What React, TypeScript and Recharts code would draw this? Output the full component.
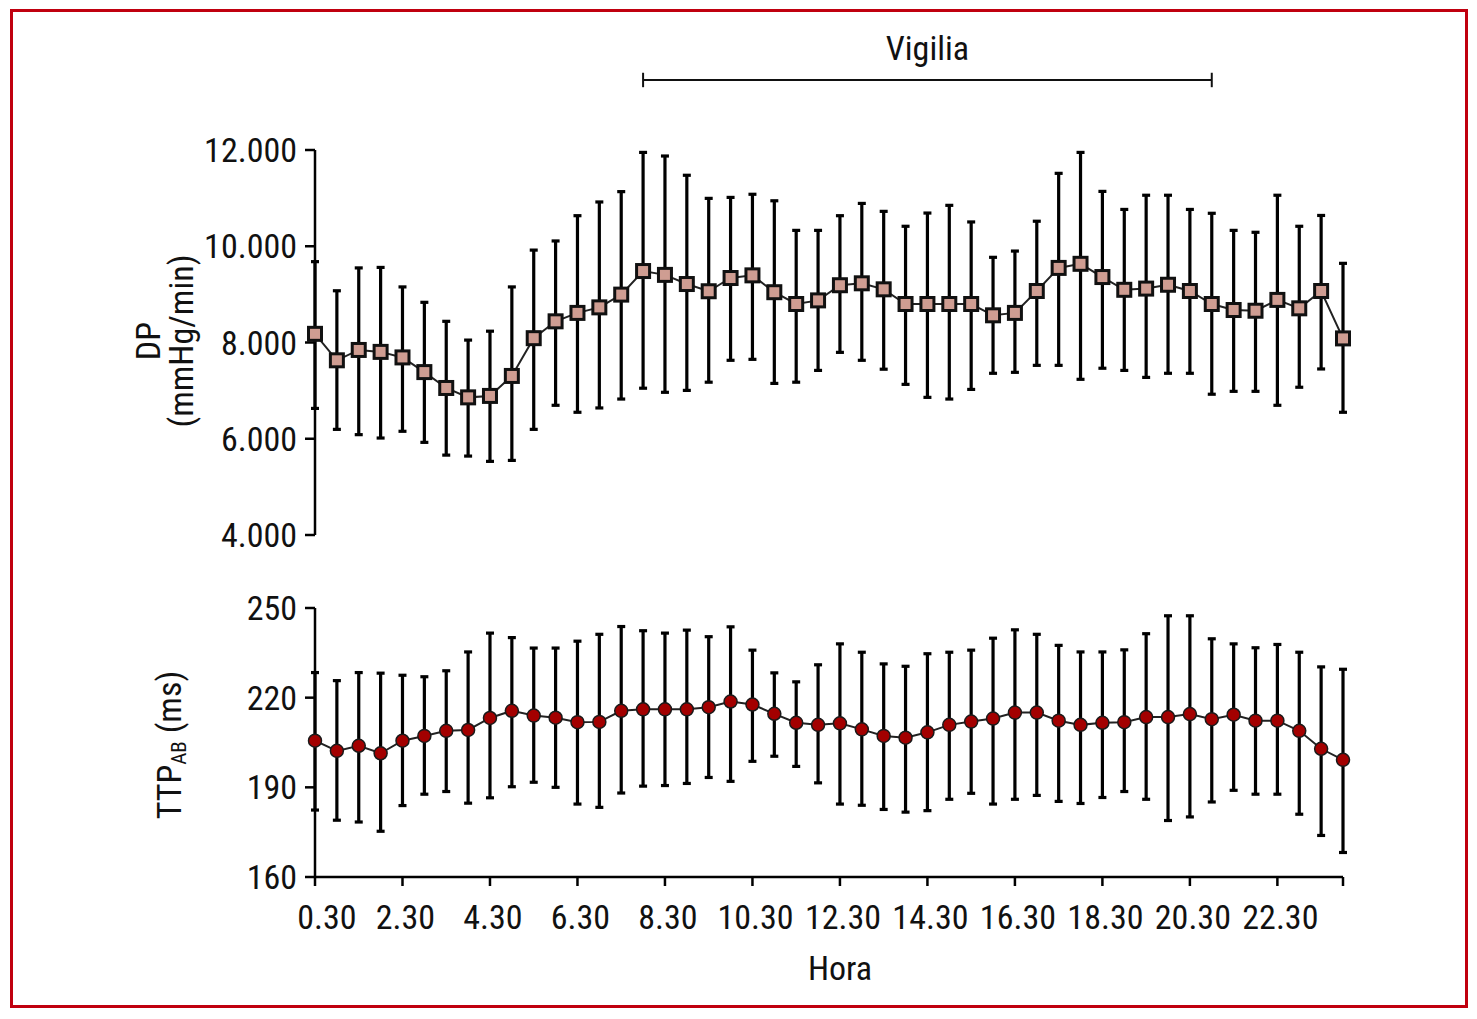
import React from 'react';
import { ComposedChart, Line, XAxis, YAxis, ErrorBar, ReferenceLine, Label } from 'recharts';

const FONT = "'Liberation Sans Narrow', 'Arial Narrow', 'Roboto Condensed', 'DejaVu Sans Condensed', sans-serif";

const hours = [0.5, 1, 1.5, 2, 2.5, 3, 3.5, 4, 4.5, 5, 5.5, 6, 6.5, 7, 7.5, 8, 8.5, 9, 9.5, 10, 10.5, 11, 11.5, 12,
  12.5, 13, 13.5, 14, 14.5, 15, 15.5, 16, 16.5, 17, 17.5, 18, 18.5, 19, 19.5, 20, 20.5, 21, 21.5, 22, 22.5, 23, 23.5, 24];

const dpMean = [8180, 7630, 7845, 7805, 7690, 7385, 7055, 6860, 6890, 7305, 8090, 8440, 8615, 8730, 8995, 9485,
  9405, 9215, 9065, 9340, 9395, 9045, 8800, 8875, 9190, 9230, 9105, 8800, 8800, 8800, 8800, 8565,
  8615, 9070, 9550, 9635, 9360, 9095, 9120, 9200, 9070, 8800, 8675, 8660, 8885, 8710, 9070, 8085];
const dpHigh = [9680, 9075, 9550, 9560, 9155, 8835, 8440, 8050, 8235, 9155, 9920, 10110, 10635, 10920, 11135, 11950,
  11875, 11475, 10995, 11015, 11080, 10945, 10330, 10330, 10635, 10890, 10725, 10415, 10690, 10850, 10505, 9770,
  9900, 10520, 11515, 11950, 11140, 10765, 11060, 11060, 10765, 10685, 10330, 10290, 11060, 10415, 10640, 9645];
const dpLow = [6630, 6195, 6085, 6015, 6155, 5925, 5660, 5640, 5530, 5550, 6195, 6695, 6550, 6640, 6825, 7050,
  6965, 7005, 7175, 7630, 7650, 7150, 7175, 7420, 7795, 7630, 7445, 7130, 6860, 6825, 7025, 7360,
  7380, 7525, 7525, 7235, 7465, 7420, 7275, 7360, 7360, 6925, 6985, 6985, 6695, 7070, 7450, 6550];

const ttpMean = [205.6, 202.2, 203.9, 201.4, 205.6, 207.2, 208.9, 209.2, 213.2, 215.6, 214.0, 213.3, 211.8, 211.9, 215.6, 216.1,
  216.1, 216.1, 216.8, 218.7, 217.7, 214.6, 211.6, 210.9, 211.4, 209.4, 207.2, 206.6, 208.4, 210.9, 212.0, 213.0,
  215.0, 215.0, 212.3, 210.9, 211.6, 211.8, 213.5, 213.5, 214.5, 212.8, 214.3, 212.3, 212.3, 208.9, 202.9, 199.2];
const ttpHigh = [228.4, 225.7, 228.4, 228.2, 227.5, 227.0, 229.0, 235.3, 241.6, 240.1, 236.6, 236.6, 238.9, 241.2, 243.8, 242.4,
  241.6, 242.6, 240.4, 243.7, 235.9, 228.3, 225.3, 231.0, 238.0, 235.2, 231.3, 230.5, 234.7, 235.2, 235.9, 239.9,
  242.7, 241.2, 237.5, 235.3, 235.3, 236.0, 241.4, 247.4, 247.4, 239.7, 238.0, 236.7, 237.8, 235.2, 230.3, 229.5];
const ttpLow = [182.4, 179.0, 178.4, 175.3, 183.9, 187.7, 188.6, 184.7, 186.5, 190.2, 191.7, 190.0, 184.4, 183.3, 188.1, 190.4,
  190.6, 191.3, 193.3, 192.0, 198.7, 200.4, 197.0, 191.5, 184.4, 184.0, 182.6, 181.7, 182.2, 186.0, 188.0, 184.4,
  186.0, 187.3, 185.3, 184.6, 186.6, 188.6, 186.0, 178.9, 180.1, 185.1, 189.0, 187.7, 187.7, 181.0, 173.9, 168.2];

const xTicks = [0.5, 2.5, 4.5, 6.5, 8.5, 10.5, 12.5, 14.5, 16.5, 18.5, 20.5, 22.5, 24];
const xTickLabels = ['0.30', '2.30', '4.30', '6.30', '8.30', '10.30', '12.30', '14.30', '16.30', '18.30', '20.30', '22.30', ''];
const dpTicks = [4000, 6000, 8000, 10000, 12000];
const dpTickLabels = ['4.000', '6.000', '8.000', '10.000', '12.000'];
const ttpTicks = [160, 190, 220, 250];
const ttpTickLabels = ['160', '190', '220', '250'];

const vigiliaStart = 8;
const vigiliaEnd = 21;
const vigiliaLevel = 13455;
const vigiliaCap = 150;

const topData = hours.map((h, i) => ({ h, dp: dpMean[i], dpErr: [dpMean[i] - dpLow[i], dpHigh[i] - dpMean[i]] }));
const bottomData = hours.map((h, i) => ({ h, ttp: ttpMean[i], ttpErr: [ttpMean[i] - ttpLow[i], ttpHigh[i] - ttpMean[i]] }));

const TXT = '#111';
const FS = 34;
const axisStyle = { stroke: '#000', strokeWidth: 2.5 };

const SquareDot = (p: any) => {
  const { cx, cy, index } = p;
  if (cx == null || cy == null) return <g key={`sq${index}`} />;
  return (
    <rect key={`sq${index}`} x={cx - 6.5} y={cy - 6.5} width={13} height={13}
      fill="#cf9d92" stroke="#111" strokeWidth={3} />
  );
};

const XTick = (p: any) => {
  const { x, y, payload, index } = p;
  const label = xTickLabels[index] ?? '';
  const shift = index === 0 ? 12 : 3;
  return (
    <text x={x + shift} y={y} dy="0.71em" textAnchor="middle" fontSize={FS} fontFamily={FONT} fill={TXT}>{label}</text>
  );
};

const DpLabel = () => (
  <g>
    <text x={160} y={341} transform="rotate(-90 160 341)" textAnchor="middle" fontSize={FS} fontFamily={FONT} fill={TXT}>DP</text>
    <text x={193} y={341} transform="rotate(-90 193 341)" textAnchor="middle" fontSize={FS} fontFamily={FONT} fill={TXT}>(mmHg/min)</text>
  </g>
);

const TtpLabel = () => (
  <text x={181} y={185} transform="rotate(-90 181 185)" textAnchor="middle" fontSize={FS} fontFamily={FONT} fill={TXT}>
    TTP<tspan fontSize={21} dy={5}>AB</tspan><tspan dy={-5}> (ms)</tspan>
  </text>
);

const HoraLabel = () => (
  <text x={840} y={420} textAnchor="middle" fontSize={FS} fontFamily={FONT} fill={TXT}>Hora</text>
);

export default function App() {
  return (
    <div style={{ position: 'absolute', left: 0, top: 0, width: 1477, height: 1019, background: '#fff' }}>
      <div style={{ position: 'absolute', left: 0, top: 0 }}>
        <ComposedChart width={1477} height={560} data={topData}
          margin={{ top: 150, right: 134, bottom: 25, left: 0 }}>
          <XAxis dataKey="h" type="number" domain={[0.5, 24]} hide />
          <YAxis type="number" domain={[4000, 12000]} ticks={dpTicks} width={315}
            tickFormatter={(v: any, i: number) => dpTickLabels[i]}
            tick={{ fontSize: FS, fill: TXT, fontFamily: FONT }}
            tickSize={10} tickMargin={8} axisLine={axisStyle} tickLine={axisStyle} interval={0}>
            <Label content={<DpLabel />} />
          </YAxis>
          <ReferenceLine ifOverflow="visible" stroke="#111" strokeWidth={2}
            segment={[{ x: vigiliaStart, y: vigiliaLevel }, { x: vigiliaEnd, y: vigiliaLevel }]}
            label={{ value: 'Vigilia', position: 'top', offset: 20, fontSize: FS, fontFamily: FONT, fill: TXT }} />
          <ReferenceLine ifOverflow="visible" stroke="#111" strokeWidth={2}
            segment={[{ x: vigiliaStart, y: vigiliaLevel - vigiliaCap }, { x: vigiliaStart, y: vigiliaLevel + vigiliaCap }]} />
          <ReferenceLine ifOverflow="visible" stroke="#111" strokeWidth={2}
            segment={[{ x: vigiliaEnd, y: vigiliaLevel - vigiliaCap }, { x: vigiliaEnd, y: vigiliaLevel + vigiliaCap }]} />
          <Line dataKey="dp" stroke="#222" strokeWidth={2} dot={SquareDot} activeDot={false}
            isAnimationActive={false}>
            <ErrorBar dataKey="dpErr" width={4} stroke="#000" strokeWidth={3.2} direction="y" isAnimationActive={false} />
          </Line>
        </ComposedChart>
      </div>
      <div style={{ position: 'absolute', left: 0, top: 560 }}>
        <ComposedChart width={1477} height={459} data={bottomData}
          margin={{ top: 48, right: 134, bottom: 0, left: 0 }}>
          <XAxis dataKey="h" type="number" domain={[0.5, 24]} ticks={xTicks} interval={0} height={142}
            tick={<XTick />}
            tickSize={9} tickMargin={19} axisLine={axisStyle} tickLine={axisStyle}>
            <Label content={<HoraLabel />} />
          </XAxis>
          <YAxis type="number" domain={[160, 250]} ticks={ttpTicks} width={315} interval={0}
            tickFormatter={(v: any, i: number) => ttpTickLabels[i]}
            tick={{ fontSize: FS, fill: TXT, fontFamily: FONT }}
            tickSize={10} tickMargin={8} axisLine={axisStyle} tickLine={axisStyle}>
            <Label content={<TtpLabel />} />
          </YAxis>
          <Line dataKey="ttp" stroke="#222" strokeWidth={2}
            dot={{ r: 6.5, fill: '#a30000', stroke: '#1a1a1a', strokeWidth: 1.5 }} activeDot={false}
            isAnimationActive={false}>
            <ErrorBar dataKey="ttpErr" width={4} stroke="#000" strokeWidth={3.2} direction="y" isAnimationActive={false} />
          </Line>
        </ComposedChart>
      </div>
      <div style={{ position: 'absolute', left: 10, top: 9, width: 1458, height: 999, border: '3.5px solid #c0000f', boxSizing: 'border-box', pointerEvents: 'none' }} />
    </div>
  );
}
